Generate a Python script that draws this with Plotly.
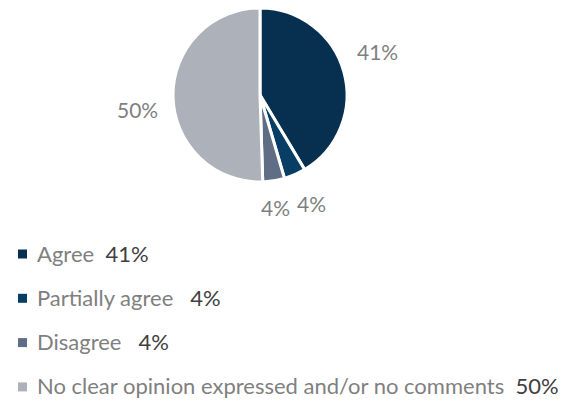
import math
import plotly.graph_objects as go

labels = ["Agree", "Partially agree", "Disagree", "No clear opinion expressed and/or no comments"]
values = [41, 4, 4, 50]
pct_text = ["41%", "4%", "4%", "50%"]
colors = ["#072f4f", "#083d66", "#5f6e84", "#adb2ba"]

W, H = 569, 401
# pie placement in pixels
cx, cy, R = 260, 95, 87
dom_x = [(cx - R) / W, (cx + R) / W]
dom_y = [1 - (cy + R) / H, 1 - (cy - R) / H]
# per-label nudges (pixels) for outside label placement
nudges = [(-2, -11), (2, -5), (-4, -9), (1, 13)]

fig = go.Figure(go.Pie(
    labels=labels, values=values, sort=False, direction="clockwise", rotation=0,
    marker=dict(colors=colors, line=dict(color="white", width=3)),
    textinfo="none", hoverinfo="label+percent", showlegend=False,
    domain=dict(x=dom_x, y=dom_y),
))

annotations = []
shapes = []
total = sum(values)
cum = 0
for v, t, (nx, ny) in zip(values, pct_text, nudges):
    mid = (cum + v / 2) / total * 2 * math.pi
    cum += v
    rl = 1.42 * R
    px = cx + rl * math.sin(mid) + nx
    py = cy - rl * math.cos(mid) + ny
    annotations.append(dict(x=px / W, y=1 - py / H, xref="paper", yref="paper",
                            xanchor="center", yanchor="middle",
                            text=t, showarrow=False,
                            font=dict(family="Lato", size=21, color="#7f7f7f")))

gaps = ["  ", "   ", "   ", "  "]
for i, (lab, t, c) in enumerate(zip(labels, pct_text, colors)):
    yc = 254 + i * 44.3
    shapes.append(dict(type="rect", xref="paper", yref="paper",
                       x0=18 / W, x1=27 / W, y0=1 - (yc + 4.5) / H, y1=1 - (yc - 4.5) / H,
                       fillcolor=c, line=dict(width=0)))
    annotations.append(dict(x=35 / W, y=1 - (yc - 1) / H, xref="paper", yref="paper",
                            xanchor="left", yanchor="middle", showarrow=False,
                            text=f"{lab}{gaps[i]}<span style='color:#404040'>{t}</span>",
                            font=dict(family="Lato", size=22, color="#7f7f7f")))

fig.update_layout(width=W, height=H, margin=dict(l=0, r=0, t=0, b=0),
                  paper_bgcolor="white", plot_bgcolor="white",
                  annotations=annotations, shapes=shapes)
fig.write_html("out.html")
